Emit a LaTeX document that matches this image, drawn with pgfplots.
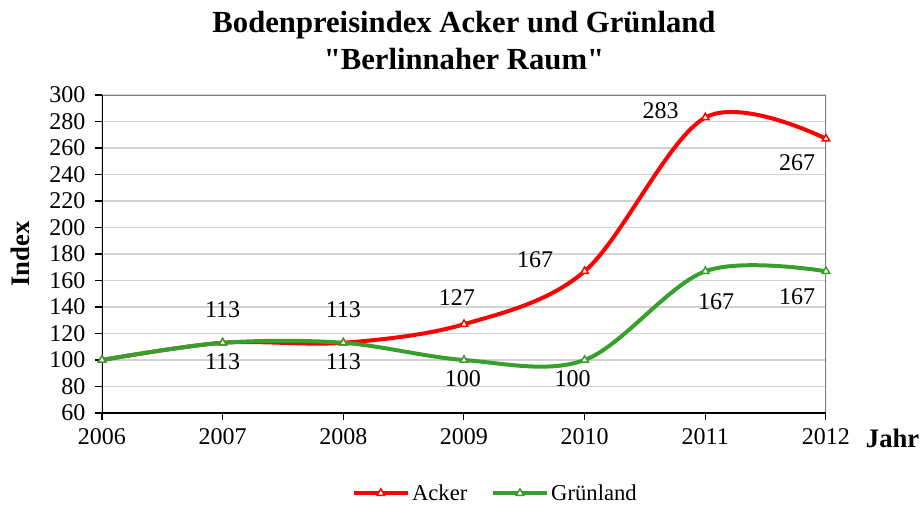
\documentclass[border=0pt]{standalone}
\usepackage{pgfplots}
\pgfplotsset{compat=1.18}
\usepackage{fontspec}
\setmainfont{Liberation Serif}
\definecolor{grn}{RGB}{55,160,45}
\definecolor{gridc}{RGB}{210,210,210}
\begin{document}
\begin{tikzpicture}
\begin{axis}[
  scale only axis,
  width=543pt, height=238.5pt,
  xmin=2006, xmax=2012, ymin=60, ymax=300,
  xtick={2006,...,2012}, ytick={60,80,...,300},
  /pgf/number format/assume math mode=true,
  x tick label style={/pgf/number format/.cd, set thousands separator={}},
  tick label style={font=\fontsize{18}{21}\selectfont},
  ymajorgrids, grid style={gridc, line width=0.8pt},
  axis line style={draw=none},
  tick align=outside, major tick length=5pt,
  tick style={black, line width=0.8pt},
  xtick pos=bottom, ytick pos=left,
  xticklabel shift=3pt, yticklabel shift=4pt,
  title={Bodenpreisindex Acker und Grünland\\\textquotedbl Berlinnaher Raum\textquotedbl},
  title style={font=\bfseries\fontsize{23}{28}\selectfont, align=center, at={(axis description cs:0.5,1)}, anchor=south, yshift=9pt},
  ylabel={Index},
  ylabel style={font=\bfseries\fontsize{20}{22}\selectfont, at={(axis description cs:-0.113,0.5)}, anchor=center, rotate=0},
  xlabel={Jahr},
  xlabel style={font=\bfseries\fontsize{20}{22}\selectfont, at={(axis description cs:1.131,-0.079)}, anchor=east, inner sep=1pt},
  legend style={draw=none, at={(axis description cs:0.544,-0.252)}, anchor=center, legend columns=2, font=\fontsize{17}{20}\selectfont, /tikz/every even column/.append style={column sep=16pt}},
  legend image code/.code={\draw[#1, mark repeat=2, mark phase=2] plot coordinates {(0cm,0cm) (0.7cm,0cm) (1.4cm,0cm)};},
]
\draw[gray, line width=1.2pt] (rel axis cs:0,1) -- (rel axis cs:1,1) -- (rel axis cs:1,0);
\addplot[red, line width=3pt, smooth, tension=0.55, mark=triangle*, mark size=3.2pt, mark options={fill=white, line width=1.1pt}]
  coordinates {(2006,100) (2007,113) (2008,113) (2009,127) (2010,167) (2011,283) (2012,267)};
\addlegendentry{Acker}
\addplot[grn, line width=3pt, smooth, tension=0.55, mark=triangle*, mark size=3.2pt, mark options={fill=white, line width=1.1pt}]
  coordinates {(2006,100) (2007,113) (2008,113) (2009,100) (2010,100) (2011,167) (2012,167)};
\addlegendentry{Grünland}
\draw[black, line width=1pt] (rel axis cs:0,1) -- (rel axis cs:0,0) -- (rel axis cs:1,0);
\begin{scope}[every node/.style={font=\fontsize{18}{21}\selectfont}]
\node at (axis cs:2007,138) {113};
\node at (axis cs:2007,98.5) {113};
\node at (axis cs:2008,138) {113};
\node at (axis cs:2008,98.5) {113};
\node at (axis cs:2008.94,146.8) {127};
\node at (axis cs:2008.99,85.7) {100};
\node at (axis cs:2009.59,175.5) {167};
\node at (axis cs:2009.90,85.7) {100};
\node at (axis cs:2010.63,287.9) {283};
\node at (axis cs:2011.09,143.8) {167};
\node at (axis cs:2011.76,248.7) {267};
\node at (axis cs:2011.76,147.5) {167};
\end{scope}
\end{axis}
\pgfresetboundingbox
\path[use as bounding box] (-76.5pt,-68.25pt) rectangle (616.5pt,309.75pt);
\end{tikzpicture}
\end{document}
